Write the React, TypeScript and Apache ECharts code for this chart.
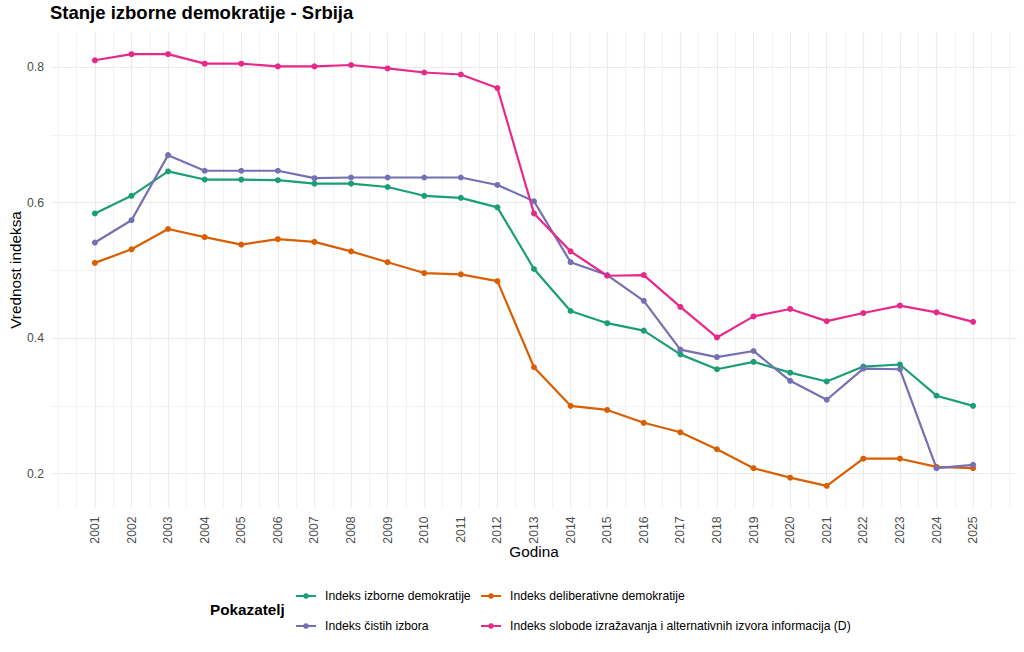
import React, { useEffect, useRef } from 'react';
import * as echarts from 'echarts';

// Godine i vrednosti indeksa (procenjeno sa slike)
const years = [
    2001, 2002, 2003, 2004, 2005, 2006, 2007, 2008, 2009, 2010, 2011, 2012, 2013,
    2014, 2015, 2016, 2017, 2018, 2019, 2020, 2021, 2022, 2023, 2024, 2025,
];

const izborne = [
    0.584, 0.61, 0.646, 0.634, 0.634, 0.633, 0.628, 0.628, 0.623, 0.61, 0.607, 0.593, 0.502,
    0.44, 0.422, 0.411, 0.376, 0.354, 0.365, 0.349, 0.336, 0.358, 0.361, 0.315, 0.3,
];
const deliberativne = [
    0.511, 0.531, 0.561, 0.549, 0.538, 0.546, 0.542, 0.528, 0.512, 0.496, 0.494, 0.484, 0.357,
    0.3, 0.294, 0.275, 0.261, 0.236, 0.208, 0.194, 0.182, 0.222, 0.222, 0.21, 0.208,
];
const cistih = [
    0.541, 0.574, 0.67, 0.647, 0.647, 0.647, 0.636, 0.637, 0.637, 0.637, 0.637, 0.626, 0.602,
    0.512, 0.493, 0.455, 0.383, 0.372, 0.381, 0.337, 0.309, 0.355, 0.354, 0.208, 0.213,
];
const slobode = [
    0.81, 0.819, 0.819, 0.805, 0.805, 0.801, 0.801, 0.803, 0.798, 0.792, 0.789, 0.769, 0.584,
    0.528, 0.492, 0.493, 0.446, 0.401, 0.432, 0.443, 0.425, 0.437, 0.448, 0.438, 0.424,
];

const yTicks = [0.2, 0.4, 0.6, 0.8];
const yMinorTicks = [0.3, 0.5, 0.7];
const xMinorTicks = [2000, 2000.5, ...years.map(y => y + 0.5), 2026];

const seriesDefs = [
    { name: 'Indeks izborne demokratije', values: izborne, color: '#1B9E77' },
    { name: 'Indeks deliberativne demokratije', values: deliberativne, color: '#D95F02' },
    { name: 'Indeks čistih izbora', values: cistih, color: '#7570B3' },
    { name: 'Indeks slobode izražavanja i alternativnih izvora informacija (D)', values: slobode, color: '#E7298A' },
];

const FONT = '"Liberation Sans", Arial, sans-serif';
const GRID_COLOR = '#ebebeb';

const App: React.FC = () => {
    const chartRef = useRef<HTMLDivElement>(null);

    useEffect(() => {
        if (!chartRef.current) return;
        const chart = echarts.init(chartRef.current, undefined, { renderer: 'svg' });

        const gridLines = [
            ...yMinorTicks.map(v => ({ yAxis: v, lineStyle: { color: GRID_COLOR, width: 0.6, type: 'solid' } })),
            ...xMinorTicks.map(v => ({ xAxis: v, lineStyle: { color: GRID_COLOR, width: 0.6, type: 'solid' } })),
            ...yTicks.map(v => ({ yAxis: v, lineStyle: { color: GRID_COLOR, width: 1.2, type: 'solid' } })),
            ...years.map(v => ({ xAxis: v, lineStyle: { color: GRID_COLOR, width: 1.2, type: 'solid' } })),
        ];

        const legendCommon = {
            orient: 'vertical',
            top: 589,
            itemWidth: 20,
            itemHeight: 7,
            itemGap: 16,
            padding: 0,
            textStyle: {
                fontFamily: FONT,
                fontSize: 12.2,
                lineHeight: 14,
                color: '#000',
                padding: [0, 0, 0, 4],
            },
        };

        chart.setOption({
            animation: false,
            textStyle: { fontFamily: FONT },
            title: {
                text: 'Stanje izborne demokratije - Srbija',
                left: 50,
                top: 3,
                padding: 0,
                textStyle: { fontFamily: FONT, fontSize: 18.5, fontWeight: 'bold', color: '#000' },
            },
            graphic: [
                {
                    type: 'text',
                    left: 210,
                    top: 602,
                    style: { text: 'Pokazatelj', fontFamily: FONT, fontSize: 15.3, fontWeight: 'bold', fill: '#000' },
                },
            ],
            legend: [
                { ...legendCommon, left: 295, data: [seriesDefs[0].name, seriesDefs[2].name] },
                { ...legendCommon, left: 480, data: [seriesDefs[1].name, seriesDefs[3].name] },
            ],
            grid: { left: 50, right: 7, top: 32.5, bottom: 144.5 },
            xAxis: {
                type: 'value',
                min: 1999.8,
                max: 2026.2,
                name: 'Godina',
                nameLocation: 'middle',
                nameGap: 36,
                nameMoveOverlap: false,
                nameTextStyle: { fontFamily: FONT, fontSize: 15.3, color: '#000' },
                axisLine: { show: false },
                axisTick: { show: false },
                splitLine: { show: false },
                axisLabel: {
                    customValues: years,
                    rotate: 90,
                    margin: 9,
                    fontSize: 12.2,
                    color: '#4d4d4d',
                    fontFamily: FONT,
                    formatter: (v: number) => String(Math.round(v)),
                },
            },
            yAxis: {
                type: 'value',
                min: 0.15,
                max: 0.851,
                name: 'Vrednost indeksa',
                nameLocation: 'middle',
                nameGap: 28,
                nameMoveOverlap: false,
                nameTextStyle: { fontFamily: FONT, fontSize: 15.3, color: '#000' },
                axisLine: { show: false },
                axisTick: { show: false },
                splitLine: { show: false },
                axisLabel: {
                    customValues: yTicks,
                    margin: 7,
                    fontSize: 12.2,
                    color: '#4d4d4d',
                    fontFamily: FONT,
                    formatter: (v: number) => v.toFixed(1),
                },
            },
            series: [
                {
                    name: '__grid',
                    type: 'line',
                    data: [],
                    z: 1,
                    silent: true,
                    markLine: {
                        z: 1,
                        silent: true,
                        symbol: ['none', 'none'],
                        label: { show: false },
                        emphasis: { disabled: true },
                        data: gridLines,
                    },
                },
                ...seriesDefs.map(s => ({
                    name: s.name,
                    type: 'line',
                    z: 10,
                    data: years.map((y, i) => [y, s.values[i]]),
                    color: s.color,
                    symbol: 'circle',
                    symbolSize: 6,
                    showSymbol: true,
                    lineStyle: { width: 2.2, color: s.color },
                    itemStyle: { color: s.color, borderWidth: 0 },
                    emphasis: { disabled: true },
                })),
            ],
        });

        return () => chart.dispose();
    }, []);

    return (
        <div
            ref={chartRef}
            style={{ position: 'absolute', left: 0, top: 0, width: 1024, height: 652, background: '#fff' }}
        />
    );
};

export default App;
